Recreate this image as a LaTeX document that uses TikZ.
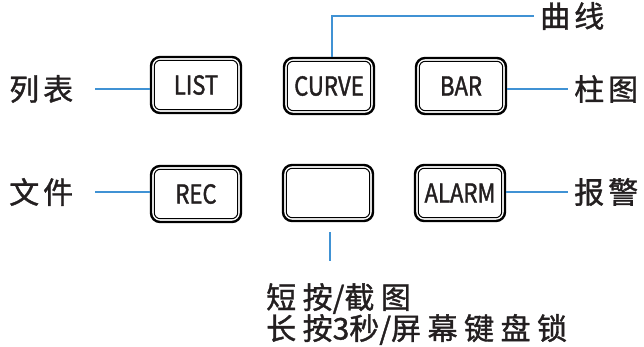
\documentclass[tikz,border=0pt]{standalone}
\usepackage{fontspec}
\newfontfamily\cjk[FakeBold=1.2]{Noto Sans CJK SC}
\newfontfamily\btnfont[FakeStretch=0.85,FakeBold=1.5]{Noto Sans CJK SC}
\definecolor{linkblue}{RGB}{64,146,212}
\definecolor{txtc}{RGB}{35,31,32}
\newcommand{\gp}{\hspace{6.5pt}}
\begin{document}
\begin{tikzpicture}[x=1pt,y=-1pt,
  btn/.style={draw=black, line width=2.4pt, rounded corners=9pt, minimum width=90pt,
    minimum height=56pt, inner sep=0pt, font=\btnfont\fontsize{26}{28}\selectfont, text=txtc},
  lbl/.style={inner sep=0pt, font=\cjk\fontsize{30}{31}\selectfont, text=txtc},
  link/.style={draw=linkblue, line width=2.3pt}]
\useasboundingbox (0,0) rectangle (644,347);
\fill[white] (0,0) rectangle (644,347);
% buttons
\node[btn] (list)  at (196,85)  {LIST};
\node[btn] (curve) at (329,86)  {CURVE};
\node[btn] (bar)   at (461,86)  {BAR};
\node[btn] (rec)   at (196,194) {REC};
\node[btn] (blank) at (328,193) {};
\node[btn] (alarm) at (460,193) {ALARM};
\foreach \n in {list,curve,bar,rec,blank,alarm}{
  \draw[line width=1pt, rounded corners=6pt] ([shift={(4.5,4.5)}]\n.north west) rectangle ([shift={(-4.5,-4.5)}]\n.south east);
}
% labels
\node[lbl, anchor=west] (lb)  at (9,89)  {列\hspace{4pt}表};
\node[lbl, anchor=west] (wj)  at (9,192) {文\hspace{4pt}件};
\node[lbl, anchor=west] (zt)  at (574,89) {柱\hspace{4pt}图};
\node[lbl, anchor=west] (bj)  at (574,192) {报\hspace{4pt}警};
\node[lbl, anchor=west] (qx)  at (540,16) {曲\hspace{4pt}线};
\node[lbl, anchor=north west, align=left] (bottom) at (266,283) {短\gp 按/截\gp 图\\长\gp 按3秒/屏\gp 幕\gp 键\gp 盘\gp 锁};
% connectors
\draw[link, shorten <=22pt] (lb.east) -- (list.west |- lb.east);
\draw[link, shorten <=22pt] (wj.east) -- (rec.west |- wj.east);
\draw[link, shorten >=6pt] (bar.east |- zt.west) -- (zt.west);
\draw[link, shorten >=6pt] (alarm.east |- bj.west) -- (bj.west);
\coordinate (cu) at ([xshift=3pt]curve.north);
\draw[link, shorten >=6pt] (cu) |- (qx.west);
\draw[link, shorten <=10pt, shorten >=22pt] ([xshift=2pt]blank.south) -- ([xshift=2pt]blank.south |- bottom.north);
\end{tikzpicture}
\end{document}
